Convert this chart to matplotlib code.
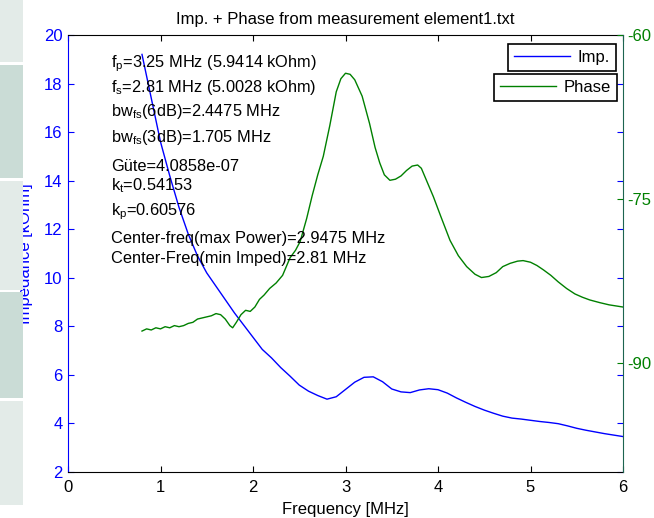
import matplotlib
matplotlib.use("Agg")
import matplotlib.pyplot as plt
from matplotlib.patches import Rectangle

plt.rcParams["font.family"] = ["Liberation Sans", "DejaVu Sans"]
plt.rcParams["mathtext.fontset"] = "custom"
plt.rcParams["mathtext.rm"] = "Liberation Sans"
plt.rcParams["mathtext.it"] = "Liberation Sans:italic"
plt.rcParams["mathtext.default"] = "regular"
plt.rcParams["axes.unicode_minus"] = False

# impedance magnitude [kOhm] over frequency [MHz]
freq_imp = [0.8, 0.9, 1.0, 1.1, 1.2, 1.3, 1.4, 1.5, 1.6, 1.7, 1.8, 1.9, 2.0, 2.1,
            2.2, 2.3, 2.4, 2.5, 2.6, 2.7, 2.8, 2.9, 3.0, 3.1, 3.2, 3.3, 3.4, 3.5,
            3.6, 3.7, 3.8, 3.9, 4.0, 4.1, 4.2, 4.3, 4.4, 4.5, 4.6, 4.7, 4.8, 4.9,
            5.0, 5.1, 5.2, 5.3, 5.4, 5.5, 5.6, 5.7, 5.8, 5.9, 6.0]
imp = [19.2, 17.4, 15.6, 14.2, 12.9, 11.8, 10.9, 10.2, 9.65, 9.1, 8.55, 8.05, 7.55, 7.05,
       6.7, 6.3, 5.95, 5.58, 5.33, 5.15, 5.0, 5.1, 5.4, 5.7, 5.9, 5.92, 5.72, 5.42,
       5.3, 5.27, 5.38, 5.43, 5.39, 5.25, 5.05, 4.87, 4.7, 4.55, 4.42, 4.3, 4.22, 4.18,
       4.13, 4.08, 4.04, 3.99, 3.9, 3.8, 3.72, 3.65, 3.58, 3.52, 3.46]

# phase [deg]
freq_ph = [0.80, 0.85, 0.90, 0.95, 1.00, 1.05, 1.10, 1.15, 1.20, 1.25, 1.30, 1.35, 1.40,
           1.45, 1.50, 1.55, 1.60, 1.65, 1.70, 1.75, 1.78, 1.82, 1.87, 1.92, 1.97, 2.02,
           2.07, 2.12, 2.18, 2.25, 2.32, 2.40, 2.46, 2.51, 2.58, 2.64, 2.70, 2.76, 2.83,
           2.90, 2.95, 3.00, 3.05, 3.10, 3.18, 3.26, 3.32, 3.37, 3.42, 3.48, 3.54, 3.60,
           3.66, 3.72, 3.78, 3.82, 3.88, 3.95, 4.03, 4.13, 4.22, 4.31, 4.40, 4.47, 4.55,
           4.63, 4.70, 4.78, 4.86, 4.92, 5.00, 5.07, 5.14, 5.22, 5.30, 5.39, 5.48, 5.56,
           5.64, 5.75, 5.85, 5.97, 6.00]
phase = [-87.1, -86.9, -87.0, -86.8, -86.9, -86.7, -86.8, -86.6, -86.7, -86.6, -86.4, -86.3, -86.0,
         -85.9, -85.8, -85.7, -85.5, -85.6, -86.0, -86.6, -86.8, -86.3, -85.6, -85.2, -85.3, -84.9,
         -84.2, -83.8, -83.2, -82.7, -82.0, -80.4, -79.7, -78.9, -76.8, -74.7, -72.8, -71.1, -68.3,
         -65.2, -64.0, -63.5, -63.6, -64.1, -65.6, -68.1, -70.3, -71.7, -72.8, -73.3, -73.2, -72.9,
         -72.4, -72.0, -71.9, -72.2, -73.4, -74.8, -76.6, -78.8, -80.2, -81.2, -81.9, -82.2, -82.1,
         -81.75, -81.2, -80.9, -80.7, -80.65, -80.8, -81.1, -81.5, -82.0, -82.6, -83.2, -83.7, -84.0,
         -84.25, -84.5, -84.7, -84.86, -84.9]

info_lines = [
    "f$_p$=3.25 MHz (5.9414 kOhm)",
    "f$_s$=2.81 MHz (5.0028 kOhm)",
    "bw$_{fs}$(6dB)=2.4475 MHz",
    "bw$_{fs}$(3dB)=1.705 MHz",
    "Güte=4.0858e-07",
    "k$_t$=0.54153",
    "k$_p$=0.60576",
    "Center-freq(max Power)=2.9475 MHz",
    "Center-Freq(min Imped)=2.81 MHz",
]
info_y = [67, 92, 116, 142, 171, 190, 215, 243, 263]  # baselines, px from top

blue = "#0000ff"
green = "#008000"
W, H = 654, 518

fig = plt.figure(figsize=(W / 100, H / 100), dpi=100)
ax1 = fig.add_axes([68 / W, 1 - 472 / H, 555 / W, 437 / H])
ax2 = ax1.twinx()

l1, = ax1.plot(freq_imp, imp, color=blue, lw=1.0)
l2, = ax2.plot(freq_ph, phase, color=green, lw=1.0)

ax1.set_xlim(0, 6)
ax1.set_ylim(2, 20)
ax1.set_xticks(range(0, 7))
ax1.set_yticks(range(2, 21, 2))
ax2.set_ylim(-100, -60)
ax2.set_yticks([-90, -75, -60])

ax1.tick_params(axis="x", direction="in", length=4, top=True, labelsize=12, colors="black", pad=6)
ax1.tick_params(axis="y", direction="in", length=4, right=True, labelsize=12,
                colors=blue, pad=4)
ax2.tick_params(axis="y", direction="in", length=4, labelsize=12, colors=green, pad=3)

for s in ["top", "bottom"]:
    ax1.spines[s].set_color("black")
ax1.spines["left"].set_color(blue)
ax1.spines["right"].set_visible(False)
for s in ["top", "bottom", "left"]:
    ax2.spines[s].set_visible(False)
ax2.spines["right"].set_color("#1d6450")

ax1.set_title("Imp. + Phase from measurement element1.txt", fontsize=12, pad=8)
ax1.set_xlabel("Frequency [MHz]", fontsize=12, labelpad=5)
ax1.set_ylabel("Impedance [kOhm]", fontsize=12, color=blue)
ax1.yaxis.set_label_coords((33 - 68) / 555, 0.5)

for txt, yp in zip(info_lines, info_y):
    fig.text(111 / W, 1 - yp / H, txt, fontsize=11.8, ha="left", va="baseline")

leg_kw = dict(loc="upper right", fontsize=12, fancybox=False, framealpha=1,
              edgecolor="black", borderaxespad=0, borderpad=0.35,
              handlelength=3.4, handletextpad=0.45)
leg1 = ax1.legend([l1], ["Imp."], bbox_to_anchor=(0.987, 0.979), **leg_kw)
leg2 = ax2.legend([l2], ["Phase"], bbox_to_anchor=(0.989, 0.911), **leg_kw)
for lg in (leg1, leg2):
    lg.get_frame().set_linewidth(1.2)

# side panel strip on the left edge
panels = [(0, 62, "#e3ebe8"), (65, 178, "#cadcd6"), (181, 290, "#e3ebe8"),
          (292, 398, "#cadcd6"), (401, 505, "#e3ebe8")]
for top, bot, col in panels:
    fig.add_artist(Rectangle((0, 1 - bot / H), 23 / W, (bot - top) / H,
                             transform=fig.transFigure, color=col, lw=0, zorder=10))

fig.savefig("out.png", dpi=100)
